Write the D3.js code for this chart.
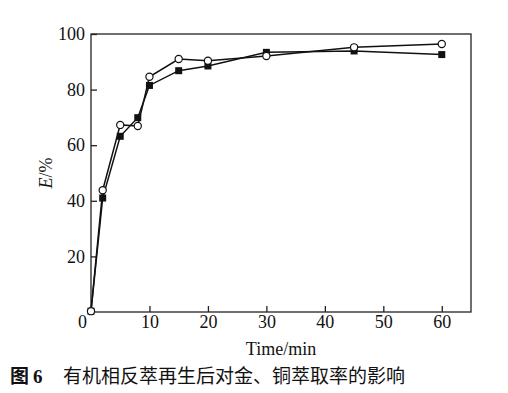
<!DOCTYPE html>
<html><head><meta charset="utf-8">
<script src="https://cdn.jsdelivr.net/npm/d3@7"></script>
<style>body{margin:0;background:#fff} text{font-family:"Liberation Serif","DejaVu Serif",serif}</style>
</head><body>
<svg id="c" width="508" height="393"></svg>
<script>
const times = [0, 2, 5, 8, 10, 15, 20, 30, 45, 60];
const goldOpen = [0.3, 43.8, 67.3, 66.9, 84.6, 91.0, 90.4, 92.1, 95.2, 96.4];
const copperFilled = [0.3, 41.0, 63.2, 69.9, 81.5, 86.8, 88.5, 93.4, 93.9, 92.6];
const xTicks = [10, 20, 30, 40, 50, 60];
const yTicks = [0, 20, 40, 60, 80, 100];

const svg = d3.select("#c");
const L = 91, R = 471, T = 34, B = 312;
const x = d3.scaleLinear().domain([0, 65]).range([L, R]);
const y = d3.scaleLinear().domain([0, 100]).range([B, T]);
const serif = "Liberation Serif";
const cjk = "Noto Sans CJK SC";

svg.append("rect").attr("x", L).attr("y", T).attr("width", R - L).attr("height", B - T)
  .attr("fill", "none").attr("stroke", "#222").attr("stroke-width", 1.3);

const xa = svg.append("g").attr("transform", `translate(0,${B})`)
  .call(d3.axisBottom(x).tickValues(xTicks).tickSize(-6).tickPadding(3).tickFormat(d3.format("d")));
const ya = svg.append("g").attr("transform", `translate(${L},0)`)
  .call(d3.axisLeft(y).tickValues(yTicks).tickSize(-6).tickPadding(6).tickFormat(d3.format("d")));
[xa, ya].forEach(a => {
  a.attr("font-family", null);
  a.select(".domain").remove();
  a.selectAll(".tick line").attr("stroke", "#222").attr("stroke-width", 1.3);
  a.selectAll(".tick text").style("font-family", serif).attr("font-size", 18).attr("fill", "#111");
});
const zeroTick = ya.selectAll(".tick").filter(d => d === 0);
zeroTick.select("line").remove();
zeroTick.select("text").attr("x", -4).attr("dy", 15);

const line = d3.line().x(d => x(d[0])).y(d => y(d[1]));
const dFilled = times.map((t, i) => [t, copperFilled[i]]);
const dOpen = times.map((t, i) => [t, goldOpen[i]]);

svg.append("path").attr("d", line(dFilled)).attr("fill", "none").attr("stroke", "#111").attr("stroke-width", 1.5);
svg.append("path").attr("d", line(dOpen)).attr("fill", "none").attr("stroke", "#111").attr("stroke-width", 1.5);

svg.selectAll(".sq").data(dFilled).join("rect").attr("class", "sq")
  .attr("x", d => x(d[0]) - 3.5).attr("y", d => y(d[1]) - 3.5)
  .attr("width", 7).attr("height", 7).attr("fill", "#111");
svg.selectAll(".ci").data(dOpen).join("circle").attr("class", "ci")
  .attr("cx", d => x(d[0])).attr("cy", d => y(d[1])).attr("r", 3.6)
  .attr("fill", "#fff").attr("stroke", "#111").attr("stroke-width", 1.2);

const yl = svg.append("text").attr("transform", `translate(52,${(T + B) / 2}) rotate(-90)`)
  .attr("text-anchor", "middle").style("font-family", serif).attr("font-size", 18).attr("fill", "#111");
yl.append("tspan").attr("font-style", "italic").text("E");
yl.append("tspan").text("/%");

svg.append("text").attr("x", 281).attr("y", 355).attr("text-anchor", "middle")
  .style("font-family", serif).attr("font-size", 18).attr("fill", "#111").text("Time/min");

const cap = svg.append("text").attr("x", 10).attr("y", 383).attr("font-size", 19).attr("fill", "#111");
cap.append("tspan").style("font-family", cjk).attr("font-weight", "bold").text("图");
cap.append("tspan").style("font-family", serif).attr("font-weight", "bold").attr("dx", 4).text("6");
cap.append("tspan").attr("x", 63).style("font-family", cjk).text("有机相反萃再生后对金、铜萃取率的影响");
</script>
</body></html>
